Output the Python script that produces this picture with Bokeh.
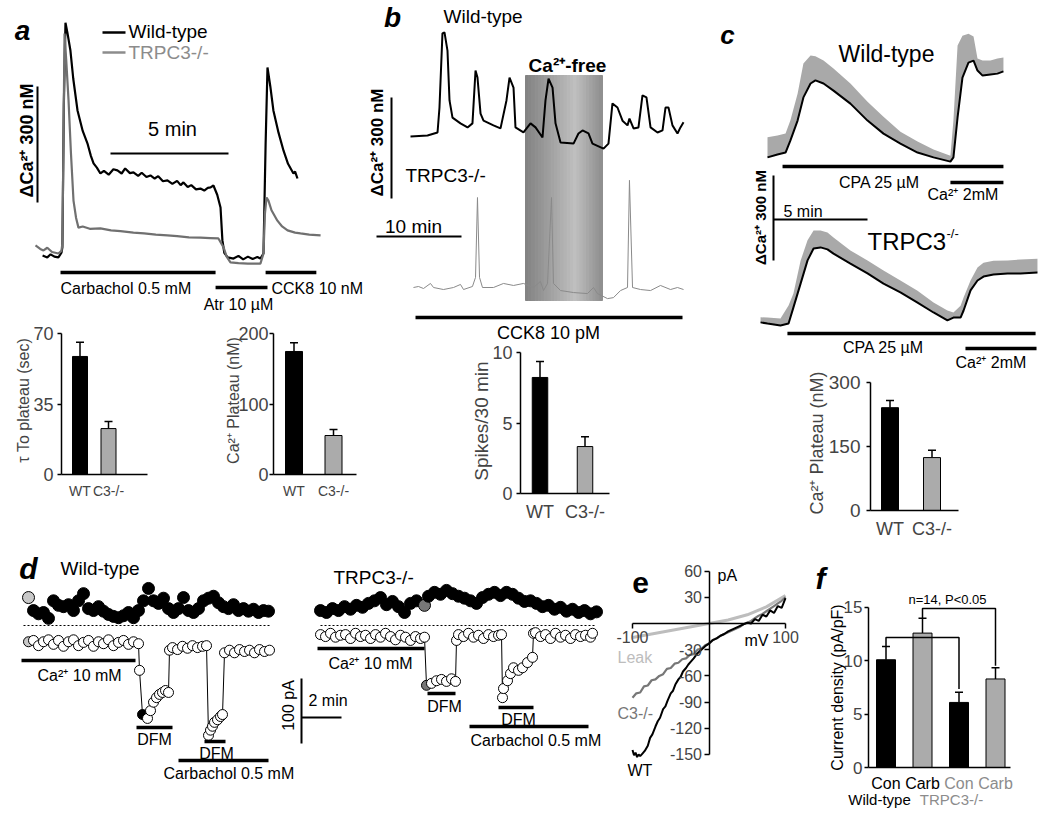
import numpy as np
from bokeh.plotting import figure
from bokeh.models import (Range1d, Label, LabelSet, ColumnDataSource, FixedTicker,
                          LinearAxis, Whisker, TeeHead)
from bokeh.layouts import row, column
from bokeh.embed import file_html
from bokeh.resources import INLINE
from bokeh.core.properties import value

FONT = "Liberation Sans"
GREY = "#ababab"

# ======================= DATA =======================
# (a) Ca2+ traces: time (min), delta [Ca2+] (nM)
a_wt_t = [0.30, 0.50, 0.64, 0.80, 0.97, 1.10, 1.14, 1.20, 1.27, 1.35, 1.48, 1.60, 1.78, 2.00, 2.20,
          2.35, 2.46, 2.60, 2.75, 2.90, 3.10, 3.30, 3.47, 3.65, 3.80, 4.00, 4.15, 4.35, 4.50, 4.70,
          4.87, 5.05, 5.20, 5.40, 5.59, 5.80, 6.00, 6.15, 6.27, 6.45, 6.60, 6.80, 6.99, 7.15, 7.30,
          7.42, 7.54, 7.70, 7.84, 7.92, 8.00, 8.14, 8.39, 8.60, 8.80, 9.00, 9.20, 9.40, 9.53, 9.66,
          9.75, 9.83, 9.95, 10.08, 10.30, 10.51, 10.70, 10.93, 11.00, 11.10]
a_wt_ca = [13, 8, 16, 10, 8, 20, 34, 400, 615, 590, 543, 470, 388, 335, 303,
           270, 251, 240, 225, 232, 222, 236, 233, 225, 238, 226, 228, 219, 227, 216,
           220, 212, 218, 205, 207, 198, 206, 195, 202, 190, 195, 184, 186, 181, 188,
           189, 194, 170, 137, 52, 20, 8, 5, 12, 3, 10, 4, 9, 5, 18,
           300, 499, 450, 388, 330, 284, 250, 225, 230, 212]
a_ko_t = [0.00, 0.20, 0.34, 0.50, 0.70, 0.97, 1.10, 1.14, 1.23, 1.30, 1.40, 1.50, 1.61, 1.72, 1.82,
          2.00, 2.30, 2.75, 3.20, 3.60, 4.15, 4.60, 5.10, 5.59, 6.00, 6.50, 6.99, 7.40, 7.75, 7.97,
          8.10, 8.26, 8.60, 9.00, 9.53, 9.66, 9.72, 9.79, 9.87, 10.00, 10.25, 10.45, 10.68, 11.00,
          11.23, 11.60, 12.08]
a_ko_ca = [39, 30, 26, 33, 22, 18, 25, 44, 587, 520, 414, 280, 155, 110, 85,
           88, 82, 83, 78, 76, 72, 70, 67, 65, 63, 60, 59, 58, 57, 34,
           10, -5, -7, -8, -8, 18, 120, 163, 155, 130, 103, 88, 78, 72,
           70, 67, 65]
a_carbachol = [1.06, 7.63]
a_atropine = [7.63, 9.83]
a_cck8 = [9.75, 11.90]
a_groups = ["WT", "C3-/-"]
a_tau = [58.6, 22.8]
a_tau_err = [7.0, 3.5]
a_plateau = [174.5, 55.3]
a_plateau_err = [12.5, 8.5]

# (b) CCK8 10 pM oscillations: time (min), delta [Ca2+] (nM)
b_wt_t = [0, 2.0, 3.18, 3.41, 3.76, 4.0, 4.35, 4.59, 4.94, 5.88, 6.71, 7.29, 7.65, 7.88, 8.24,
          8.59, 9.76, 10.59, 11.29, 11.65, 12.12, 12.35, 13.29, 14.12, 14.71, 15.53, 15.88, 16.24,
          16.71, 17.06, 17.65, 19.18, 19.76, 20.24, 20.94, 21.41, 22.71, 23.29, 23.76, 24.35,
          24.94, 25.53, 25.76, 26.24, 26.82, 27.29, 27.76, 28.24, 29.06, 29.65, 30.0, 30.35,
          30.82, 31.41, 31.76, 32.12]
b_wt_ca = [0, 3, 12, 86, 306, 309, 255, 107, 56, 39, 27, 39, 196, 175, 68,
           47, 33, 24, 107, 175, 145, 27, 12, 39, 27, -3, 107, 172,
           145, 39, -18, -21, 9, 18, 9, -21, -36, -21, 98, 86,
           47, 33, 53, 24, 27, 122, 116, 27, 12, 18, 86, 86,
           33, 9, 27, 42]
b_ko_t = [0.35, 0.94, 1.53, 2.35, 2.71, 3.88, 5.06, 5.88, 6.24, 7.29, 7.65, 7.88, 8.12, 8.47,
          9.76, 10.94, 12.12, 13.29, 14.47, 15.29, 15.65, 16.12, 16.59, 16.82, 17.65, 19.18,
          20.82, 21.53, 22.0, 23.18, 23.88, 24.71, 25.53, 25.76, 26.12, 27.06, 28.24, 29.41,
          30.59, 31.41, 32.12]
b_ko_ca = [0, 3, -3, 12, 0, -6, 0, 9, -6, 3, 30, 267, 30, 0,
           0, 12, 6, 12, 0, 18, -9, 12, 267, 12, -9, -15,
           -18, 0, -18, -33, -30, -9, 0, 318, 0, -6, -9, 6,
           -6, 0, -6]
b_ca_free = [13.53, 22.59]
b_cck8 = [0.59, 32.0]
b_groups = ["WT", "C3-/-"]
b_spikes = [8.23, 3.33]
b_spikes_err = [1.13, 0.70]

# (c) CPA / Ca2+ re-addition: time (min), mean and SEM of delta [Ca2+] (nM)
c_wt_t = [0, 0.53, 0.96, 1.22, 1.60, 1.91, 2.29, 2.55, 2.98, 3.51, 4.41, 5.32, 6.17, 7.07,
          7.98, 8.83, 9.73, 9.89, 10.11, 10.37, 10.69, 10.96, 11.17, 11.44, 11.86, 12.23, 12.55]
c_wt_ca = [11, 21, 28, 71, 141, 223, 272, 283, 272, 247, 201, 141, 95, 60,
           28, 11, -4, 11, 152, 293, 346, 353, 318, 300, 304, 307, 315]
c_wt_sem = [71, 67, 67, 71, 95, 120, 99, 85, 81, 78, 71, 67, 60, 42,
            39, 28, 21, 131, 254, 148, 102, 85, 42, 53, 49, 53, 49]
c_ko_t = [-0.37, 0, 0.69, 1.12, 1.38, 1.76, 2.13, 2.45, 2.82, 3.19, 3.51, 4.41, 5.32, 6.17,
          7.07, 7.98, 8.83, 9.57, 9.89, 10.27, 10.43, 10.80, 11.17, 11.49, 12.02, 12.77, 13.46, 14.36]
c_ko_ca = [11, 7, 0, 7, 64, 148, 230, 272, 276, 269, 254, 219, 184, 148,
           117, 81, 46, 18, 28, 28, 53, 124, 159, 173, 180, 184, 184, 187]
c_ko_sem = [18, 21, 25, 64, 49, 81, 71, 64, 60, 60, 57, 46, 46, 46,
            42, 42, 35, 35, 18, 42, 46, 35, 46, 49, 49, 46, 49, 49]
c_cpa_wt = [0.80, 12.55]
c_ca_wt = [9.73, 12.55]
c_cpa_ko = [1.06, 14.26]
c_ca_ko = [10.53, 14.31]
c_groups = ["WT", "C3-/-"]
c_plateau = [241, 124]
c_plateau_err = [17, 17]

# (d) whole-cell currents at +80 (top, filled) and -100 mV (bottom, open): time (min), pA
wt_top_t = [0.25, 0.5, 0.75, 1.0, 1.25, 1.5, 1.75, 2.0, 2.25, 2.5, 2.75, 3.0, 3.25, 3.5, 3.75, 4.0,
            4.25, 4.5, 4.75, 5.0, 5.25, 5.5, 5.75, 6.0, 6.25, 6.5, 6.75, 7.0, 7.25, 7.5, 7.75,
            8.0, 8.25, 8.5, 8.75, 9.0, 9.25, 9.5, 9.75, 10.0, 10.25, 10.5, 10.75, 11.0, 11.25,
            11.5, 11.75, 12.0, 12.25]
wt_top_I = [43, 23, 18, 20, 11, 38, 31, 29, 32, 23, 38, 49, 26, 23, 29, 22,
            17, 14, 12, 15, 20, 12, 23, 38, 57, 38, 34, 42, 26, 20, 26,
            43, 23, 20, 26, 38, 42, 45, 35, 29, 26, 32, 23, 26, 22,
            25, 20, 23, 22]
wt_open_t = [0.25, 0.5, 0.75, 1.0, 1.25, 1.5, 1.75, 2.0, 2.25, 2.5, 2.75, 3.0, 3.25, 3.5, 3.75,
             4.0, 4.25, 4.5, 4.75, 5.0, 5.25, 5.5, 5.75, 5.8, 5.95, 6.2, 6.35, 6.5, 6.65, 6.8,
             6.95, 7.1, 7.25, 7.3, 7.45, 7.7, 7.95, 8.2, 8.45, 8.7, 8.95, 9.15, 9.25, 9.35,
             9.45, 9.55, 9.7, 9.85, 9.95, 10.05, 10.3, 10.55, 10.8, 11.05, 11.3, 11.55, 11.8,
             12.05, 12.3]
wt_open_I = [-25, -23, -31, -25, -22, -29, -23, -32, -25, -22, -31, -26, -23, -32, -25,
             -28, -22, -31, -26, -23, -29, -25, -28, -69, -137, -143, -131, -118, -111, -106,
             -103, -100, -103, -38, -34, -37, -32, -35, -31, -34, -32, -31, -169, -161,
             -155, -149, -145, -140, -137, -42, -38, -42, -37, -40, -38, -42, -37,
             -40, -38]
wt_grey_t = 0.25      # sample shown in grey
wt_black_t = 5.95     # sample shown filled black
ko_top_t = [0.15, 0.45, 0.75, 1.05, 1.35, 1.65, 1.95, 2.25, 2.55, 2.85, 3.15, 3.45, 3.75, 4.05,
            4.35, 4.65, 4.95, 5.35, 5.55, 5.85, 6.15, 6.45, 6.75, 7.05, 7.35, 7.65, 7.95, 8.25,
            8.55, 8.85, 9.15, 9.45, 9.75, 10.05, 10.35, 10.65, 10.95, 11.25, 11.55, 11.85,
            12.15, 12.45, 12.75, 13.05, 13.35, 13.65, 13.95]
ko_top_I = [23, 20, 26, 23, 29, 25, 31, 28, 34, 38, 43, 32, 37, 29,
            20, 34, 38, 31, 45, 51, 48, 54, 49, 45, 42, 38, 34, 43,
            48, 51, 46, 51, 48, 42, 37, 38, 34, 29, 31, 25,
            28, 22, 25, 20, 23, 18, 21]
ko_open_t = [0.15, 0.4, 0.65, 0.9, 1.15, 1.4, 1.65, 1.9, 2.15, 2.4, 2.65, 2.9, 3.15, 3.4, 3.65,
             3.9, 4.15, 4.4, 4.65, 4.9, 5.15, 5.35, 5.45, 5.7, 5.95, 6.2, 6.45, 6.7, 6.9, 6.95,
             7.05, 7.3, 7.55, 7.8, 8.05, 8.3, 8.55, 8.8, 9.05, 9.2, 9.25, 9.3, 9.5, 9.65, 9.8,
             10.05, 10.25, 10.5, 10.75, 10.8, 10.9, 11.15, 11.4, 11.65, 11.9, 12.15, 12.4,
             12.65, 12.9, 13.15, 13.4, 13.65, 13.75]
ko_open_I = [-14, -17, -12, -18, -15, -14, -20, -12, -17, -15, -20, -14, -18, -12, -17,
             -22, -15, -18, -23, -17, -20, -18, -92, -89, -85, -83, -86, -82, -86, -23,
             -14, -17, -12, -18, -15, -20, -14, -17, -15, -14, -111, -97, -85, -74, -65,
             -69, -65, -57, -49, -12, -11, -17, -14, -20, -12, -18, -15,
             -20, -14, -17, -15, -18, -12]
ko_grey_top_t = 5.35
ko_grey_open_t = 5.45
d_wt_ca10 = [-0.10, 5.60]
d_wt_dfm = [[5.65, 7.45], [9.05, 10.10]]
d_wt_carb = [7.75, 12.25]
d_ko_ca10 = [0.0, 5.35]
d_ko_dfm = [[5.50, 6.90], [9.05, 10.80]]
d_ko_carb = [7.60, 13.55]

# (e) I-V relationships: mV, pA
e_leak_mv = [-100, -75, -50, -25, 0, 25, 50, 75, 100]
e_leak_pa = [-16, -12, -8, -4, 0, 4, 10, 19, 32]
e_ko_mv = [-100, -95, -90, -85, -80, -75, -70, -65, -60, -55, -50, -45, -40, -35, -30, -25, -20,
           -15, -10, -5, 0, 5, 10, 15, 20, 25, 30, 35, 40, 45, 50, 55, 60, 65, 70, 75, 80, 85,
           90, 95, 100]
e_ko_pa = [-85, -80, -79, -72, -71, -65, -64, -60, -58, -52, -51, -46, -45, -41, -40, -36, -35,
           -30, -29, -25, -23, -19, -17, -14, -12, -10, -8, -6, -4, -1, 1, 3, 6, 9, 11, 14, 17,
           20, 23, 26, 30]
e_wt_mv = [-100, -98, -96, -94, -92, -90, -87, -84, -80, -77, -74, -70, -67, -64, -60, -57, -54,
           -50, -47, -44, -40, -37, -34, -30, -27, -24, -20, -15, -10, -5, 0, 5, 10, 15, 20, 25,
           30, 35, 40, 45, 50, 55, 60, 65, 70, 75, 80, 85, 90, 95, 100]
e_wt_pa = [-145, -151, -148, -153, -150, -152, -149, -146, -140, -131, -127, -118, -112, -108,
           -98, -95, -88, -80, -77, -70, -64, -61, -55, -51, -47, -44, -40, -34, -30, -26, -23,
           -19, -17, -14, -12, -9, -7, -5, -3, -1, 1, 0, 5, 3, 10, 8, 15, 12, 20, 18, 29]
e_xticks = [-100, 100]
e_yticks = [60, 30, -30, -60, -90, -120, -150]

# (f) current density
f_labels = ["Con", "Carb", "Con", "Carb"]
f_genotype = ["Wild-type", "Wild-type", "TRPC3-/-", "TRPC3-/-"]
f_density = [10.1, 12.6, 6.1, 8.3]
f_err = [1.25, 1.4, 0.95, 1.05]
f_yticks = [0, 5, 10, 15]


# ======================= HELPERS =======================
def blank(box, X, Y):
    x0, y0, x1, y1 = box
    p = figure(width=x1 - x0, height=y1 - y0,
               x_range=Range1d(X(x0), X(x1)), y_range=Range1d(Y(y1), Y(y0)),
               x_axis_type=None, y_axis_type=None, toolbar_location=None,
               output_backend="svg", min_border=0,
               min_border_left=0, min_border_right=0, min_border_top=0, min_border_bottom=0)
    p.outline_line_color = None
    p.background_fill_color = "white"
    p.border_fill_color = "white"
    return p


def txt(p, x, y, s, size=16, color="black", align="left", style="normal", angle=0.0):
    p.add_layout(Label(x=x, y=y, text=s, text_font=FONT, text_font_size=f"{size}px",
                       text_color=color, text_align=align, text_baseline="middle",
                       text_font_style=style, angle=angle))


def hseg(p, x0, x1, y, w=3.5, color="black"):
    p.segment(x0=[x0], y0=[y], x1=[x1], y1=[y], line_width=w, line_color=color)


def vseg(p, x, y0, y1, w=2.0, color="black"):
    p.segment(x0=[x], y0=[y0], x1=[x], y1=[y1], line_width=w, line_color=color)


def add_bars(p, groups, vals, errs, colors, width):
    xs = list(range(len(groups)))
    src = ColumnDataSource(dict(x=xs, top=vals, up=[v + e for v, e in zip(vals, errs)],
                                color=colors))
    p.vbar(x="x", top="top", width=width, fill_color="color",
           line_color="black", line_width=1, source=src)
    p.add_layout(Whisker(source=src, base="x", lower="top", upper="up", dimension="height",
                         line_width=1.5, line_color="black",
                         upper_head=TeeHead(size=8, line_width=1.5, line_color="black"),
                         lower_head=None))
    return xs


def style_y(ya, ticks, ymax, tick_size, ylabel, ylabel_size, ylabel_standoff, tick_standoff):
    ya.ticker = FixedTicker(ticks=ticks)
    ya.bounds = (0, ymax)
    ya.minor_tick_line_color = None
    ya.major_tick_out = 4
    ya.major_tick_in = 0
    ya.major_tick_line_width = 1.5
    ya.axis_line_width = 1.5
    ya.major_label_standoff = tick_standoff
    ya.major_label_text_font = FONT
    ya.major_label_text_font_size = f"{tick_size}px"
    if ylabel:
        ya.axis_label = ylabel
        ya.axis_label_text_font = FONT
        ya.axis_label_text_font_size = f"{ylabel_size}px"
        ya.axis_label_text_font_style = "normal"
        ya.axis_label_standoff = ylabel_standoff


def bar_chart(fig_box, frame_box, c0, spacing, zero_px, top_px, ymax, groups, vals, errs,
              colors, bar_px, ticks, tick_size, ylabel, ylabel_size, ylabel_standoff, xlab_size,
              tick_standoff=3):
    fx0, fy0, fx1, fy1 = fig_box
    gx0, gy0, gx1, gy1 = frame_box
    k = (zero_px - top_px) / ymax
    p = figure(width=fx1 - fx0, height=fy1 - fy0,
               x_range=Range1d((gx0 - c0) / spacing, (gx1 - c0) / spacing),
               y_range=Range1d(0, (zero_px - gy0) / k),
               toolbar_location=None, output_backend="svg",
               min_border_left=gx0 - fx0, min_border_right=fx1 - gx1,
               min_border_top=gy0 - fy0, min_border_bottom=fy1 - gy1)
    p.outline_line_color = None
    p.grid.visible = False
    p.background_fill_color = "white"
    p.border_fill_color = "white"
    xs = add_bars(p, groups, vals, errs, colors, bar_px / spacing)
    style_y(p.yaxis[0], ticks, ymax, tick_size, ylabel, ylabel_size, ylabel_standoff,
            tick_standoff)
    xa = p.xaxis[0]
    xa.ticker = FixedTicker(ticks=xs)
    xa.major_label_overrides = {x: g for x, g in zip(xs, groups)}
    xa.major_tick_line_color = None
    xa.minor_tick_line_color = None
    xa.axis_line_width = 1.5
    xa.major_label_standoff = 2
    xa.major_label_text_font = FONT
    xa.major_label_text_font_size = f"{xlab_size}px"
    return p


# ======================= (a) =======================
AX = lambda px: (px - 35) / 23.6
AY = lambda py: (260 - py) / 0.3867
pa = blank((0, 0, 366, 318), AX, AY)
pa.line(a_wt_t, a_wt_ca, line_color="black", line_width=2.2)
pa.line(a_ko_t, a_ko_ca, line_color="#707070", line_width=2.2)
hseg(pa, a_carbachol[0], a_carbachol[1], AY(272))
hseg(pa, a_atropine[0], a_atropine[1], AY(287))
hseg(pa, a_cck8[0], a_cck8[1], AY(272))
vseg(pa, AX(37), AY(202), AY(202) + 300)
hseg(pa, AX(110), AX(110) + 5, AY(153), w=2)
hseg(pa, AX(102), AX(125), AY(32), w=2.5)
hseg(pa, AX(102), AX(125), AY(52), w=2.5, color="#8c8c8c")
txt(pa, AX(22), AY(30), "a", 28, align="center", style="bold italic")
txt(pa, AX(128), AY(31), "Wild-type", 19)
txt(pa, AX(128), AY(52), "TRPC3-/-", 19, color="#8c8c8c")
txt(pa, AX(26), AY(140), "ΔCa²⁺ 300 nM", 18, align="center", style="bold", angle=np.pi / 2)
txt(pa, AX(172), AY(128), "5 min", 20, align="center")
txt(pa, AX(60), AY(288), "Carbachol 0.5 mM", 16)
txt(pa, AX(271), AY(288), "CCK8 10 nM", 16)
txt(pa, AX(238), AY(304), "Atr 10 µM", 16, align="center")

pa1 = bar_chart((0, 318, 190, 548), (61, 326, 147, 474), 79.5, 28.5, 474, 333, 70,
                a_groups, a_tau, a_tau_err, ["black", GREY], 15, [0, 35, 70], 18,
                "τ To plateau (sec)", 16, -2, 14, tick_standoff=4)
pa2 = bar_chart((190, 318, 366, 548), (273, 326, 356, 474), 293.5, 39.5, 474, 333, 200,
                a_groups, a_plateau, a_plateau_err, ["black", GREY], 17, [0, 100, 200], 18,
                "Ca²⁺ Plateau (nM)", 16, -7, 14, tick_standoff=1)

# ======================= (b) =======================
BX = lambda px: (px - 410) / 8.5
BY = lambda py: (136 - py) / 0.337
pb = blank((366, 0, 708, 343), BX, BY)
nstrip = 24
edges = np.linspace(b_ca_free[0], b_ca_free[1], nstrip + 1)
cols = []
for i in range(nstrip):
    u = (i + 0.5) / nstrip
    v = 130 + 62 * (u / 0.65) if u < 0.65 else 192 - 50 * ((u - 0.65) / 0.35)
    cols.append("#%02x%02x%02x" % (int(v), int(v), int(v)))
pb.quad(left=edges[:-1], right=edges[1:], bottom=BY(300), top=BY(75), fill_color=cols,
        line_color=cols, line_width=1)
ko_off_b = BY(287)
pb.line(b_ko_t, [c + ko_off_b for c in b_ko_ca], line_color="#8a8a8a", line_width=1)
pb.line(b_wt_t, b_wt_ca, line_color="black", line_width=2)
hseg(pb, b_cck8[0], b_cck8[1], BY(317))
vseg(pb, BX(391), BY(198), BY(198) + 300)
hseg(pb, BX(376), BX(376) + 10, BY(236), w=2)
txt(pb, BX(392), BY(17), "b", 28, align="center", style="bold italic")
txt(pb, BX(443), BY(16), "Wild-type", 19)
txt(pb, BX(567), BY(65), "Ca²⁺-free", 19, align="center", style="bold")
txt(pb, BX(377), BY(142), "ΔCa²⁺ 300 nM", 17, align="center", style="bold", angle=np.pi / 2)
txt(pb, BX(405), BY(175), "TRPC3-/-", 19)
txt(pb, BX(413), BY(226), "10 min", 19, align="center")
txt(pb, BX(548), BY(332), "CCK8 10 pM", 18, align="center")

pb2 = bar_chart((366, 343, 708, 548), (520, 348, 609, 493), 539.5, 45, 493, 352, 10,
                b_groups, b_spikes, b_spikes_err, ["black", GREY], 15.5, [0, 5, 10], 18,
                "Spikes/30 min", 19, -3, 18, tick_standoff=4)

# ======================= (c) =======================
CX = lambda px: (px - 767) / 18.8
CY = lambda py: (160 - py) / 0.283
pc = blank((708, 0, 1050, 370), CX, CY)
ko_off_c = CY(325)
pc.varea(x=c_wt_t, y1=c_wt_ca, y2=[m + s for m, s in zip(c_wt_ca, c_wt_sem)],
         fill_color="#a9a9a9")
pc.line(c_wt_t, c_wt_ca, line_color="black", line_width=2)
pc.varea(x=c_ko_t, y1=[m + ko_off_c for m in c_ko_ca],
         y2=[m + s + ko_off_c for m, s in zip(c_ko_ca, c_ko_sem)], fill_color="#a9a9a9")
pc.line(c_ko_t, [m + ko_off_c for m in c_ko_ca], line_color="black", line_width=2)
hseg(pc, c_cpa_wt[0], c_cpa_wt[1], CY(166))
hseg(pc, c_ca_wt[0], c_ca_wt[1], CY(182))
hseg(pc, c_cpa_ko[0], c_cpa_ko[1], CY(333))
hseg(pc, c_ca_ko[0], c_ca_ko[1], CY(348))
vseg(pc, CX(773), CY(260), CY(260) + 300)
hseg(pc, CX(773), CX(773) + 5, CY(219), w=2)
txt(pc, CX(727), CY(34), "c", 26, align="center", style="bold italic")
txt(pc, CX(886), CY(53), "Wild-type", 23, align="center")
txt(pc, CX(879), CY(182), "CPA 25 µM", 16, align="center")
txt(pc, CX(927), CY(194), "Ca²⁺ 2mM", 16)
txt(pc, CX(760), CY(217), "ΔCa²⁺ 300 nM", 15, align="center", style="bold", angle=np.pi / 2)
txt(pc, CX(783), CY(211), "5 min", 16)
txt(pc, CX(867), CY(241), "TRPC3", 24)
txt(pc, CX(946), CY(233), "-/-", 13)
txt(pc, CX(883), CY(347), "CPA 25 µM", 16, align="center")
txt(pc, CX(955), CY(362), "Ca²⁺ 2mM", 16)

pc2 = bar_chart((708, 370, 1050, 548), (870, 375, 958, 510), 889.5, 42, 510, 382, 300,
                c_groups, c_plateau, c_plateau_err, ["black", GREY], 17, [0, 150, 300], 19,
                "Ca²⁺ Plateau (nM)", 18, -1, 18, tick_standoff=6)

# ======================= (d) =======================
DX = lambda px: (px - 23) / 20.0
DY = lambda py: (625 - py) / 0.65
pdd = blank((0, 548, 612, 816), DX, DY)
KO = DX(317)
pdd.line([wt_top_t[0] - 0.25, wt_open_t[-1]], [0, 0], line_dash="2 2", line_width=1.2,
         line_color="black")
pdd.line([ko_top_t[0] + KO, ko_top_t[-1] + KO], [0, 0], line_dash="2 2", line_width=1.2,
         line_color="black")
pdd.scatter(wt_top_t, wt_top_I, size=12, line_color="black",
            fill_color=["#c8c8c8" if t == wt_grey_t else "black" for t in wt_top_t])
pdd.line(wt_open_t, wt_open_I, line_color="black", line_width=1)
pdd.scatter(wt_open_t, wt_open_I, size=10, line_color="black", line_width=1,
            fill_color=["#c8c8c8" if t == wt_grey_t else ("black" if t == wt_black_t else "white")
                        for t in wt_open_t])
kt = [t + KO for t in ko_top_t]
pdd.scatter(kt, ko_top_I, size=12, line_color="black",
            fill_color=["#777777" if t == ko_grey_top_t else "black" for t in ko_top_t])
ko_t_disp = [t + KO for t in ko_open_t]
pdd.line(ko_t_disp, ko_open_I, line_color="black", line_width=1)
pdd.scatter(ko_t_disp, ko_open_I, size=10, line_color="black", line_width=1,
            fill_color=["#777777" if t == ko_grey_open_t else "white" for t in ko_open_t])
hseg(pdd, d_wt_ca10[0], d_wt_ca10[1], DY(660))
hseg(pdd, d_wt_dfm[0][0], d_wt_dfm[0][1], DY(727))
hseg(pdd, d_wt_dfm[1][0], d_wt_dfm[1][1], DY(741))
hseg(pdd, d_wt_carb[0], d_wt_carb[1], DY(760))
hseg(pdd, d_ko_ca10[0] + KO, d_ko_ca10[1] + KO, DY(648))
hseg(pdd, d_ko_dfm[0][0] + KO, d_ko_dfm[0][1] + KO, DY(693))
hseg(pdd, d_ko_dfm[1][0] + KO, d_ko_dfm[1][1] + KO, DY(707))
hseg(pdd, d_ko_carb[0] + KO, d_ko_carb[1] + KO, DY(726))
vseg(pdd, DX(301), DY(743), DY(743) + 100)
hseg(pdd, DX(301), DX(301) + 2, DY(717), w=2)
txt(pdd, DX(28), DY(568), "d", 30, align="center", style="bold italic")
txt(pdd, DX(60), DY(568), "Wild-type", 19)
txt(pdd, DX(37), DY(675), "Ca²⁺ 10 mM", 16)
txt(pdd, DX(154), DY(739), "DFM", 16, align="center")
txt(pdd, DX(216), DY(753), "DFM", 16, align="center")
txt(pdd, DX(163), DY(773), "Carbachol 0.5 mM", 16)
txt(pdd, DX(333), DY(577), "TRPC3-/-", 19)
txt(pdd, DX(328), DY(663), "Ca²⁺ 10 mM", 16)
txt(pdd, DX(444), DY(706), "DFM", 16, align="center")
txt(pdd, DX(518), DY(719), "DFM", 16, align="center")
txt(pdd, DX(470), DY(740), "Carbachol 0.5 mM", 16)
txt(pdd, DX(288), DY(705), "100 pA", 16, align="center", angle=np.pi / 2)
txt(pdd, DX(308), DY(700), "2 min", 16)

# ======================= (e) =======================
EX = lambda px: (px - 708.5) / 0.765
EY = lambda py: (623 - py) / 0.873
pe = blank((612, 548, 805, 816), EX, EY)
pe.line(e_leak_mv, e_leak_pa, line_color="#bdbdbd", line_width=3)
pe.line(e_ko_mv, e_ko_pa, line_color="#777777", line_width=2.2)
pe.line(e_wt_mv, e_wt_pa, line_color="black", line_width=2)
xa = LinearAxis(fixed_location=0, bounds=(-100, 100), ticker=FixedTicker(ticks=e_xticks),
                major_label_overrides={v: str(v) for v in e_xticks})
ya = LinearAxis(fixed_location=0, bounds=(-150, 60), ticker=FixedTicker(ticks=e_yticks),
                major_label_overrides={v: str(v) for v in e_yticks})
for ax in (xa, ya):
    ax.axis_line_width = 1.5
    ax.major_tick_line_width = 1.5
    ax.major_tick_out = 5
    ax.major_tick_in = 0
    ax.minor_tick_line_color = None
    ax.major_label_text_font = FONT
    ax.major_label_text_font_size = "16px"
    ax.major_label_standoff = 2
pe.add_layout(xa, "below")
pe.add_layout(ya, "left")
txt(pe, EX(640), EY(582), "e", 30, align="center", style="bold")
txt(pe, EX(717), EY(575), "pA", 16)
txt(pe, EX(768), EY(640), "mV", 16, align="right")
txt(pe, EX(617), EY(657), "Leak", 16, color="#bdbdbd")
txt(pe, EX(617), EY(713), "C3-/-", 16, color="#777777")
txt(pe, EX(627), EY(770), "WT", 16)

# ======================= (f) =======================
FX = lambda px: (px - 885.5) / 36.5
FY = lambda py: (767 - py) / 10.667
pf = blank((805, 548, 1050, 816), FX, FY)
f_colors = ["black" if i % 2 == 0 else GREY for i in range(len(f_labels))]
fxs = add_bars(pf, f_labels, f_density, f_err, f_colors, 19 / 36.5)
fya = LinearAxis(fixed_location=FX(868))
style_y(fya, f_yticks, f_yticks[-1], 17, None, 16, 0, 2)
pf.add_layout(fya, "left")
fxa = LinearAxis(fixed_location=0, bounds=(FX(868), FX(1010)), ticker=FixedTicker(ticks=[]),
                 axis_line_width=1.5, minor_tick_line_color=None, major_tick_line_color=None)
pf.add_layout(fxa, "below")
lab_col = ["black" if g == "Wild-type" else "#8c8c8c" for g in f_genotype]
lsrc = ColumnDataSource(dict(x=fxs, y=[FY(783)] * len(f_labels), text=f_labels, color=lab_col))
pf.add_layout(LabelSet(x="x", y="y", text="text", text_color="color", source=lsrc,
                       text_font=value(FONT), text_font_size=value("16px"),
                       text_align="center", text_baseline="middle"))
tops = [v + e for v, e in zip(f_density, f_err)]
b1, b2 = FY(637), FY(608)
pf.line([0, 0, 2, 2], [tops[0], b1, b1, tops[2] + 0.3], line_color="black", line_width=1.5)
pf.line([1, 1, 3, 3], [tops[1], b2, b2, tops[3] + 0.2], line_color="black", line_width=1.5)
txt(pf, FX(837), FY(687), "Current density (pA/pF)", 16, align="center", angle=np.pi / 2)
txt(pf, FX(820), FY(578), "f", 30, align="center", style="bold italic")
txt(pf, FX(947), FY(599), "n=14, P<0.05", 13, align="center")
txt(pf, FX(879), FY(799), "Wild-type", 15, align="center")
txt(pf, FX(951), FY(799), "TRPC3-/-", 15, align="center", color="#8c8c8c")

# ======================= LAYOUT =======================
colA = column(pa, row(pa1, pa2))
colB = column(pb, row(pb2))
colC = column(pc, row(pc2))
layout = column(row(colA, colB, colC), row(column(pdd), column(pe), column(pf)))

open("out.html", "w").write(file_html(layout, INLINE, "TRPC3 figure"))
